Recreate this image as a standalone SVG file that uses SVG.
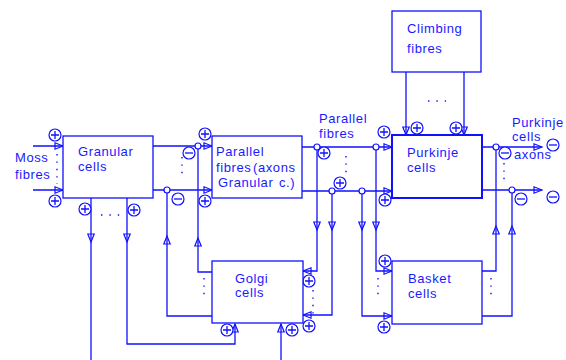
<svg xmlns="http://www.w3.org/2000/svg" xmlns:xlink="http://www.w3.org/1999/xlink" width="566" height="360" viewBox="0 0 566 360">
<style>
.box{fill:#fff;stroke:#1010ff;stroke-width:1.3}
.thick{stroke-width:2}
.ln{fill:none;stroke:#1010ff;stroke-width:1.3}
.ah{fill:none;stroke:#1010ff;stroke-width:1.2;stroke-linejoin:miter}
.jn{fill:#fff;stroke:#1010ff;stroke-width:1.2}
.sg{fill:#fff;stroke:#1010ff;stroke-width:1.2}
.dots{fill:none;stroke:#1010ff;stroke-width:1.4;stroke-dasharray:1.4 6}
.t{font-family:"Liberation Sans",Arial,sans-serif;font-size:13px;fill:#1a1aff;letter-spacing:0.6px}
</style>
<defs>
<path id="ar" class="ah" d="M0,0 L-8,-3.2 L-8,3.2 Z"/>
<g id="plus"><circle class="sg" r="6"/><path class="ln" d="M-4,0H4M0,-4V4"/></g>
<g id="minus"><circle class="sg" r="6"/><path class="ln" d="M-4,0H4"/></g>
</defs>

<g id="connectors">
<!-- moss inputs -->
<path class="ln" d="M33,146H63M33,190H63"/>
<use xlink:href="#ar" transform="translate(63,146)"/>
<use xlink:href="#ar" transform="translate(63,190)"/>
<path class="dots" d="M57,154V184"/>
<!-- granular to parallel -->
<path class="ln" d="M153,146H212M153,190H212"/>
<use xlink:href="#ar" transform="translate(212,146)"/>
<use xlink:href="#ar" transform="translate(212,190)"/>
<path class="dots" d="M182,157V178"/>
<!-- golgi to granular outputs -->
<path class="ln" d="M198,146V272H212M167,190V316H212"/>
<use xlink:href="#ar" transform="translate(198,238) rotate(-90)"/>
<use xlink:href="#ar" transform="translate(167,236) rotate(-90)"/>
<path class="dots" d="M204,278V299"/>
<!-- granular down -->
<path class="ln" d="M91,198V360M127,198V344H235V324"/>
<use xlink:href="#ar" transform="translate(91,242) rotate(90)"/>
<use xlink:href="#ar" transform="translate(127,242) rotate(90)"/>
<use xlink:href="#ar" transform="translate(235,324) rotate(-90)"/>
<path class="dots" d="M101,215H120" style="stroke-dasharray:1.4 7"/>
<!-- golgi bottom input -->
<path class="ln" d="M281,360V324"/>
<use xlink:href="#ar" transform="translate(281,324) rotate(-90)"/>
<!-- parallel to purkinje -->
<path class="ln" d="M302,147H392M302,191H392"/>
<use xlink:href="#ar" transform="translate(392,147)"/>
<use xlink:href="#ar" transform="translate(392,191)"/>
<path class="dots" d="M346,156V176"/>
<!-- parallel fibre branches -->
<path class="ln" d="M317,147V271H303M332,191V315H303M362,191V316H392M376,147V271H392"/>
<use xlink:href="#ar" transform="translate(317,230) rotate(90)"/>
<use xlink:href="#ar" transform="translate(332,230) rotate(90)"/>
<use xlink:href="#ar" transform="translate(362,230) rotate(90)"/>
<use xlink:href="#ar" transform="translate(376,230) rotate(90)"/>
<use xlink:href="#ar" transform="translate(303,271) rotate(180)"/>
<use xlink:href="#ar" transform="translate(303,315) rotate(180)"/>
<use xlink:href="#ar" transform="translate(392,271)"/>
<use xlink:href="#ar" transform="translate(392,316)"/>
<path class="dots" d="M313,290V316"/>
<path class="dots" d="M378,278V299"/>
<!-- basket outputs -->
<path class="ln" d="M482,271H496V147M482,316H512V190"/>
<use xlink:href="#ar" transform="translate(496,226) rotate(-90)"/>
<use xlink:href="#ar" transform="translate(512,226) rotate(-90)"/>
<path class="dots" d="M491,278V299"/>
<!-- purkinje outputs -->
<path class="ln" d="M482,147H542M482,190H542"/>
<use xlink:href="#ar" transform="translate(542,147)"/>
<use xlink:href="#ar" transform="translate(542,190)"/>
<path class="dots" d="M504,163V180"/>
<!-- climbing -->
<path class="ln" d="M406,72V135M464,72V135"/>
<use xlink:href="#ar" transform="translate(406,135) rotate(90)"/>
<use xlink:href="#ar" transform="translate(464,135) rotate(90)"/>
<path class="dots" d="M428,101H446" style="stroke-dasharray:1.4 7"/>
<!-- junctions -->
<circle class="jn" cx="198" cy="146" r="3"/>
<circle class="jn" cx="167" cy="190" r="3"/>
<circle class="jn" cx="317" cy="147" r="3"/>
<circle class="jn" cx="376" cy="147" r="3"/>
<circle class="jn" cx="332" cy="191" r="3"/>
<circle class="jn" cx="362" cy="191" r="3"/>
<circle class="jn" cx="496" cy="147" r="3"/>
<circle class="jn" cx="512" cy="190" r="3"/>
<!-- signs -->
<use xlink:href="#plus" x="55" y="135"/>
<use xlink:href="#plus" x="55" y="201"/>
<use xlink:href="#minus" x="189" y="153"/>
<use xlink:href="#minus" x="178" y="199"/>
<use xlink:href="#plus" x="205" y="134"/>
<use xlink:href="#plus" x="205" y="201"/>
<use xlink:href="#plus" x="85" y="209"/>
<use xlink:href="#plus" x="134" y="210"/>
<use xlink:href="#plus" x="227" y="330"/>
<use xlink:href="#plus" x="292" y="330"/>
<use xlink:href="#plus" x="309" y="281"/>
<use xlink:href="#plus" x="309" y="326"/>
<use xlink:href="#plus" x="324" y="153"/>
<use xlink:href="#plus" x="340" y="183"/>
<use xlink:href="#plus" x="384" y="132"/>
<use xlink:href="#plus" x="385" y="200"/>
<use xlink:href="#plus" x="385" y="261"/>
<use xlink:href="#plus" x="384" y="327"/>
<use xlink:href="#plus" x="417" y="128"/>
<use xlink:href="#plus" x="456" y="128"/>
<use xlink:href="#minus" x="505" y="153"/>
<use xlink:href="#minus" x="521" y="199"/>
<use xlink:href="#minus" x="553" y="145"/>
<use xlink:href="#minus" x="553" y="197"/>
</g>

<g id="moss-label">
<text class="t" x="15" y="162">Moss</text>
<text class="t" x="15" y="179">fibres</text>
</g>
<g id="granular">
<rect class="box" x="63" y="136" width="90" height="62"/>
<text class="t" x="78" y="156">Granular</text>
<text class="t" x="78" y="171">cells</text>
</g>
<g id="parallel">
<rect class="box" x="212" y="136" width="90" height="62"/>
<text class="t" x="216" y="156">Parallel</text>
<text class="t" x="216" y="172">fibres<tspan x="253">(axons</tspan></text>
<text class="t" x="218" y="187">Granular<tspan x="279">c.)</tspan></text>
</g>
<g id="parallel-label">
<text class="t" x="319" y="123">Parallel</text>
<text class="t" x="319" y="138">fibres</text>
</g>
<g id="climbing">
<rect class="box" x="392" y="11" width="89" height="61"/>
<text class="t" x="407" y="33">Climbing</text>
<text class="t" x="407" y="53">fibres</text>
</g>
<g id="purkinje">
<rect class="box thick" x="392" y="135" width="90" height="63"/>
<text class="t" x="407" y="157">Purkinje</text>
<text class="t" x="407" y="172">cells</text>
</g>
<g id="purkinje-axons-label">
<text class="t" x="512" y="127">Purkinje</text>
<text class="t" x="512" y="141">cells</text>
<text class="t" x="514" y="159">axons</text>
</g>
<g id="golgi">
<rect class="box" x="212" y="261" width="91" height="62"/>
<text class="t" x="235" y="283">Golgi</text>
<text class="t" x="235" y="297">cells</text>
</g>
<g id="basket">
<rect class="box" x="392" y="261" width="90" height="63"/>
<text class="t" x="408" y="283">Basket</text>
<text class="t" x="408" y="298">cells</text>
</g>
</svg>
